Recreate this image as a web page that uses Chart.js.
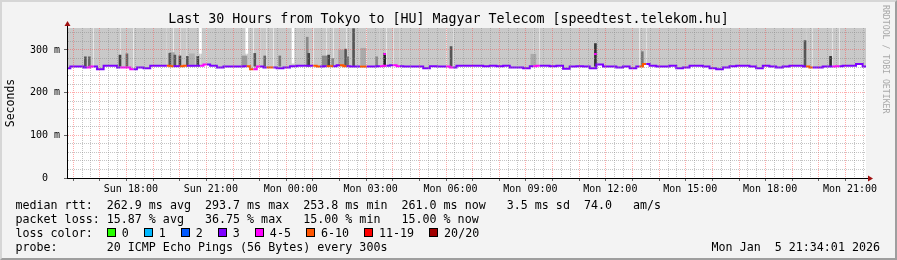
<!DOCTYPE html>
<html>
<head>
<meta charset="utf-8">
<script src="https://cdn.jsdelivr.net/npm/chart.js@4.4.1/dist/chart.umd.min.js"></script>
<style>
html, body { margin: 0; padding: 0; background: #f3f3f3; }
#wrap { position: relative; width: 897px; height: 260px; overflow: hidden; }
#frame { position: absolute; left: 0; top: 0; width: 897px; height: 260px; box-sizing: border-box;
  border-left: 2px solid #d6d6d6; border-top: 2px solid #d6d6d6;
  border-right: 2px solid #9e9e9e; border-bottom: 2px solid #9e9e9e; }
#chart { position: absolute; left: 0; top: 0; }
.mono { font-family: "DejaVu Sans Mono", monospace; white-space: pre; color: #000; position: absolute; }
#title { left: 0; width: 897px; top: 11px; text-align: center; font-size: 13.3px; line-height: 16px; }
#brand { left: 881px; top: 5px; font-size: 8.2px; line-height: 10px; color: #a8a8a8; writing-mode: vertical-rl; }
.row { left: 15.5px; font-size: 11.67px; line-height: 14px; }
#lossRow { display: flex; align-items: center; }
.item { display: flex; align-items: center; margin-right: 15px; }
.box { width: 9px; height: 9px; box-sizing: border-box; border: 1px solid #000; margin-right: 6px; }
#stamp { right: 17px; top: 239.5px; font-size: 11.67px; line-height: 14px; }
</style>
</head>
<body>
<div id="wrap">
  <div id="frame"></div>
  <canvas id="chart" width="897" height="260"></canvas>
  <div id="title" class="mono">Last 30 Hours from Tokyo to [HU] Magyar Telecom [speedtest.telekom.hu]</div>
  <div id="brand" class="mono">RRDTOOL / TOBI OETIKER</div>
  <div class="mono row" style="top:197.5px">median rtt:  262.9 ms avg  293.7 ms max  253.8 ms min  261.0 ms now   3.5 ms sd  74.0   am/s</div>
  <div class="mono row" style="top:211.5px">packet loss: 15.87 % avg   36.75 % max   15.00 % min   15.00 % now</div>
  <div id="lossRow" class="mono row" style="top:225.5px"><span>loss color:  </span></div>
  <div class="mono row" style="top:239.5px">probe:       20 ICMP Echo Pings (56 Bytes) every 300s</div>
  <div id="stamp" class="mono">Mon Jan  5 21:34:01 2026</div>
</div>
<script>
// Time axis in hours, Mon 00:00 = 0
const tStart = -8.4;
const tStep = 0.25;
const tEnd = tStart + 30;
const yMax = 351.5;

// Loss colours (smokeping, 20 pings)
const lossColors = ['#26ff00', '#00b8ff', '#0059ff', '#7e00ff', '#ff00ff', '#ff5500', '#ff0000', '#a10000'];
const lossLabels = ['0', '1', '2', '3', '4-5', '6-10', '11-19', '20/20'];

// Median rtt (ms), one value every 15 minutes
const medianMs = [
    257, 261, 261, 259, 261, 255, 263, 263, 259, 259,
    255, 259, 257, 263, 263, 263, 262, 262, 263, 263,
    263, 266, 263, 259, 261, 261, 261, 262, 255, 261,
    259, 259, 257, 259, 262, 263, 263, 263, 261, 262,
    262, 264, 262, 261, 261, 261, 261, 262, 263, 264,
    262, 261, 261, 261, 257, 262, 261, 261, 259, 263,
    263, 263, 263, 262, 263, 262, 263, 259, 259, 257,
    262, 263, 263, 262, 263, 256, 261, 262, 261, 257,
    266, 261, 261, 259, 261, 257, 261, 267, 263, 261,
    261, 263, 257, 259, 263, 263, 261, 257, 255, 259,
    262, 263, 263, 261, 257, 263, 261, 259, 261, 263,
    263, 261, 259, 259, 261, 261, 262, 263, 263, 267,
    261
];
// Loss colour index for each median value
const medianLoss = [
    3, 3, 3, 4, 3, 3, 3, 3, 4, 4,
    3, 3, 3, 3, 3, 5, 3, 5, 3, 3,
    4, 3, 3, 3, 3, 3, 3, 5, 4, 3,
    5, 3, 3, 3, 3, 3, 3, 5, 3, 5,
    3, 5, 3, 3, 5, 3, 3, 4, 3, 4,
    3, 3, 3, 3, 3, 3, 3, 4, 3, 3,
    3, 3, 3, 3, 3, 3, 3, 3, 3, 3,
    4, 3, 3, 3, 3, 3, 3, 3, 3, 3,
    3, 3, 3, 3, 3, 3, 5, 3, 3, 3,
    3, 3, 3, 3, 3, 3, 3, 3, 3, 3,
    3, 3, 3, 3, 3, 3, 3, 3, 3, 3,
    3, 5, 3, 3, 3, 4, 3, 3, 3, 3,
    3
];
const times = medianMs.map((_, i) => tStart + i * tStep);

// Smoke: narrow dark spikes
const smokeBase = 262;
const spikeT = [-7.71, -7.56, -6.41, -6.15, -4.54, -4.35, -4.16, -3.88, -3.49, -1.35, -0.975, -0.41,
    0.62, 0.675, 1.425, 1.575, 2.06, 2.14, 2.36, 3.225, 3.525, 6.02, 11.44, 13.2, 19.31, 20.27];
const spikeHi = [284, 284, 288, 291, 292, 288, 286, 285, 285, 292, 286, 286,
    330, 292, 288, 280, 302, 284, 350, 284, 292, 308, 315, 296, 322, 285];
const spikeShade = ['#555', '#666', '#444', '#666', '#555', '#555', '#444', '#555', '#444', '#555', '#666', '#777',
    '#8a8a8a', '#444', '#444', '#888', '#555', '#777', '#555', '#888', '#222', '#555', '#333', '#777', '#555', '#333'];
// Smoke: wider light patches
const patchT = [-4.46, -3.71, -1.74, 1.275, 1.89, 2.72, 9.11];
const patchHi = [294, 291, 286, 286, 300, 304, 290];
const patchShade = ['#a8a8a8', '#b0b0b0', '#999', '#888', '#aaa', '#aaa', '#aaa'];
// Median jumps with loss colour
const jumpT = [3.525, 11.44];
const jumpMs = [292, 292];
const jumpLoss = [4, 4];
// Missing samples (white columns)
const gapT = [-3.39, -1.65, 0.086];
const gapLo = [292, 292, 269];

const monoFont = '"DejaVu Sans Mono", monospace';
const majorGrid = 'rgba(255, 70, 70, 0.45)';
const minorGrid = 'rgba(140, 140, 140, 0.5)';

function hourLabel(h) {
    const day = h < 0 ? 'Sun' : 'Mon';
    const hh = ((h % 24) + 24) % 24;
    return day + ' ' + String(hh).padStart(2, '0') + ':00';
}

// Loss colour legend
const lossRow = document.getElementById('lossRow');
lossLabels.forEach((label, i) => {
    const item = document.createElement('span');
    item.className = 'item';
    const box = document.createElement('span');
    box.className = 'box';
    box.style.background = lossColors[i];
    const txt = document.createElement('span');
    txt.textContent = label;
    item.appendChild(box);
    item.appendChild(txt);
    lossRow.appendChild(item);
});

const plotBg = {
    id: 'plotBg',
    beforeDraw(chart) {
        const { ctx, chartArea: a } = chart;
        ctx.save();
        ctx.fillStyle = '#ffffff';
        ctx.fillRect(a.left, a.top, a.right - a.left, a.bottom - a.top);
        ctx.restore();
    }
};

const axisArrows = {
    id: 'axisArrows',
    afterDraw(chart) {
        const { ctx, chartArea: a } = chart;
        const x0 = Math.round(a.left) + 0.5;
        const y0 = Math.round(a.bottom) + 0.5;
        ctx.save();
        ctx.strokeStyle = '#000';
        ctx.lineWidth = 1;
        ctx.beginPath();
        ctx.moveTo(x0, a.top);
        ctx.lineTo(x0, a.top - 4);
        ctx.moveTo(a.right, y0);
        ctx.lineTo(a.right + 3, y0);
        ctx.stroke();
        ctx.fillStyle = '#a01010';
        ctx.beginPath();
        ctx.moveTo(x0, a.top - 7);
        ctx.lineTo(x0 - 3, a.top - 2);
        ctx.lineTo(x0 + 3, a.top - 2);
        ctx.closePath();
        ctx.fill();
        ctx.beginPath();
        ctx.moveTo(a.right + 7, y0);
        ctx.lineTo(a.right + 2, y0 - 3);
        ctx.lineTo(a.right + 2, y0 + 3);
        ctx.closePath();
        ctx.fill();
        ctx.restore();
    }
};

const barCommon = { type: 'bar', grouped: false, borderWidth: 0, borderSkipped: false };

new Chart(document.getElementById('chart'), {
    type: 'line',
    data: {
        datasets: [
            {
                label: 'median',
                data: medianMs.map((v, i) => ({ x: times[i], y: v })),
                borderWidth: 2,
                stepped: 'middle',
                pointRadius: 0,
                fill: 'end',
                backgroundColor: '#c9c9c9',
                borderColor: lossColors[3],
                segment: { borderColor: c => lossColors[medianLoss[c.p0DataIndex]] },
                order: 0
            },
            Object.assign({}, barCommon, {
                label: 'jumps',
                data: jumpT.map((t, i) => ({ x: t, y: [jumpMs[i] - 3, jumpMs[i]] })),
                backgroundColor: jumpLoss.map(l => lossColors[l]),
                barThickness: 2,
                order: 1
            }),
            Object.assign({}, barCommon, {
                label: 'gaps',
                data: gapT.map((t, i) => ({ x: t, y: [gapLo[i], yMax] })),
                backgroundColor: '#ffffff',
                barThickness: 2,
                order: 2
            }),
            Object.assign({}, barCommon, {
                label: 'spikes',
                data: spikeT.map((t, i) => ({ x: t, y: [smokeBase, spikeHi[i]] })),
                backgroundColor: spikeShade,
                barThickness: 2,
                order: 3
            }),
            Object.assign({}, barCommon, {
                label: 'patches',
                data: patchT.map((t, i) => ({ x: t, y: [smokeBase, patchHi[i]] })),
                backgroundColor: patchShade,
                barThickness: 5,
                order: 4
            })
        ]
    },
    options: {
        responsive: false,
        animation: false,
        layout: { padding: { left: 0, top: 28, right: 31, bottom: 0 } },
        plugins: {
            legend: { display: false },
            tooltip: { enabled: false },
            filler: { drawTime: 'beforeDatasetsDraw' }
        },
        scales: {
            x: {
                type: 'linear',
                min: tStart,
                max: tEnd,
                offset: false,
                afterBuildTicks: s => {
                    const ticks = [];
                    for (let k = Math.ceil(tStart * 3); k <= Math.floor(tEnd * 3); k++) ticks.push({ value: k / 3 });
                    s.ticks = ticks;
                },
                afterFit: s => { s.height = 82; },
                ticks: {
                    autoSkip: false,
                    maxRotation: 0,
                    padding: 2,
                    color: '#000',
                    font: { family: monoFont, size: 10 },
                    callback: v => {
                        const k = Math.round(v * 3);
                        return k % 9 === 0 ? hourLabel(k / 3) : '';
                    }
                },
                grid: {
                    z: 1,
                    lineWidth: 1,
                    tickLength: 3,
                    color: c => (c.tick && Math.round(c.tick.value * 3) % 3 === 0) ? majorGrid : minorGrid,
                    tickColor: c => (c.tick && Math.round(c.tick.value * 3) % 3 === 0) ? '#666' : 'rgba(0,0,0,0)'
                },
                border: { z: 1, color: '#000', width: 1, dash: [1, 1] }
            },
            y: {
                type: 'linear',
                min: 0,
                max: yMax,
                afterBuildTicks: s => {
                    const ticks = [];
                    for (let v = 0; v <= 340; v += 20) ticks.push({ value: v });
                    s.ticks = ticks;
                },
                afterFit: s => { s.width = 67; },
                title: {
                    display: true,
                    text: 'Seconds',
                    color: '#000',
                    font: { family: monoFont, size: 11.5 },
                    padding: { top: 4, bottom: 0 }
                },
                ticks: {
                    autoSkip: false,
                    padding: 4,
                    color: '#000',
                    font: { family: monoFont, size: 10 },
                    callback: v => v % 100 !== 0 ? '' : (v === 0 ? '0  ' : v + ' m')
                },
                grid: {
                    z: 1,
                    lineWidth: 1,
                    tickLength: 3,
                    color: c => !c.tick || c.tick.value === 0 ? 'rgba(0,0,0,0)' : (c.tick.value % 100 === 0 ? majorGrid : minorGrid),
                    tickColor: c => (c.tick && c.tick.value % 100 === 0) ? '#666' : 'rgba(0,0,0,0)'
                },
                border: { z: 1, color: '#000', width: 1, dash: [1, 1] }
            }
        }
    },
    plugins: [plotBg, axisArrows]
});
</script>
</body>
</html>
